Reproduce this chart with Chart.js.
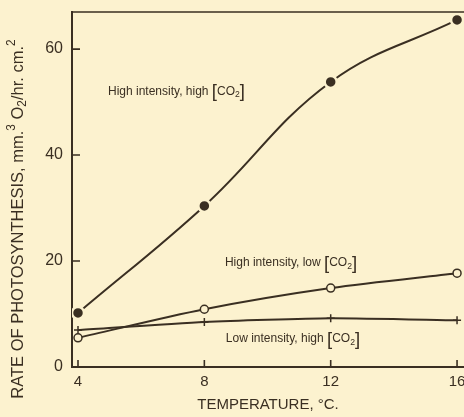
<!DOCTYPE html>
<html>
<head>
<meta charset="utf-8">
<script src="https://cdn.jsdelivr.net/npm/chart.js@4/dist/chart.umd.min.js"></script>
<style>
  html, body { margin: 0; padding: 0; background: #fcf2cf; }
  #wrap { width: 464px; height: 417px; }
</style>
</head>
<body>
<div id="wrap"><canvas id="myChart" width="464" height="417"></canvas></div>
<script>
(function () {
  "use strict";

  // values
  var temps = [4, 8, 12, 16];
  var highHigh = [10.2, 30.4, 53.8, 65.5];
  var highLow = [5.5, 10.9, 14.9, 17.7];
  var lowHigh = [7.0, 8.5, 9.2, 8.8];
  var xTicks = [4, 8, 12, 16];
  var yTicks = [0, 20, 40, 60];

  var ink = "rgb(58, 47, 34)";
  var paper = "rgb(252, 242, 207)";
  var fontName = "'Liberation Sans', Arial, sans-serif";

  function pts(vals) {
    var out = [];
    for (var i = 0; i < temps.length; i++) out.push({ x: temps[i], y: vals[i] });
    return out;
  }

  // text with sub/superscripts and tall brackets
  function drawRich(ctx, parts, x, y, size, align) {
    var total = 0;
    var sizes = [];
    for (var i = 0; i < parts.length; i++) {
      var mode = parts[i][1];
      var s = mode === "sub" || mode === "sup" ? size * 0.72 : mode === "big" ? size * 1.55 : size;
      sizes.push(s);
      ctx.font = s + "px " + fontName;
      total += ctx.measureText(parts[i][0]).width;
    }
    var cx = align === "center" ? x - total / 2 : x;
    ctx.textAlign = "left";
    ctx.textBaseline = "middle";
    for (var j = 0; j < parts.length; j++) {
      var m = parts[j][1];
      var dy = m === "sub" ? size * 0.3 : m === "sup" ? -size * 0.4 : m === "big" ? size * 0.05 : 0;
      ctx.font = sizes[j] + "px " + fontName;
      ctx.fillText(parts[j][0], cx, y + dy);
      cx += ctx.measureText(parts[j][0]).width;
    }
  }

  function co2Label(prefix) {
    return [[prefix, "n"], ["[", "big"], ["CO", "n"], ["2", "sub"], ["]", "big"]];
  }

  var labels = [
    { parts: co2Label("High intensity, high "), x: 4.95, y: 52 },
    { parts: co2Label("High intensity, low "), x: 8.65, y: 19.6 },
    { parts: co2Label("Low intensity, high "), x: 8.68, y: 5.3 }
  ];

  var decor = {
    id: "decor",
    beforeDraw: function (chart) {
      var ctx = chart.ctx;
      ctx.save();
      ctx.fillStyle = paper;
      ctx.fillRect(0, 0, chart.width, chart.height);
      ctx.restore();
    },
    afterDraw: function (chart) {
      var ctx = chart.ctx;
      var area = chart.chartArea;
      var xs = chart.scales.x;
      var ys = chart.scales.y;
      ctx.save();
      ctx.strokeStyle = ink;
      ctx.fillStyle = ink;
      ctx.lineWidth = 1.6;
      ctx.beginPath();
      ctx.moveTo(area.left, area.top);
      ctx.lineTo(chart.width, area.top);
      yTicks.forEach(function (v) {
        var py = ys.getPixelForValue(v);
        ctx.moveTo(area.left, py);
        ctx.lineTo(area.left + 8, py);
      });
      xTicks.forEach(function (v) {
        var px = xs.getPixelForValue(v);
        ctx.moveTo(px, area.bottom);
        ctx.lineTo(px, area.bottom - 7);
      });
      ctx.stroke();

      labels.forEach(function (l) {
        drawRich(ctx, l.parts, xs.getPixelForValue(l.x), ys.getPixelForValue(l.y), 12, "left");
      });

      ctx.translate(18, 219);
      ctx.rotate(-Math.PI / 2);
      drawRich(ctx, [
        ["RATE OF PHOTOSYNTHESIS, mm.", "n"], ["3", "sup"], [" O", "n"], ["2", "sub"],
        ["/hr. cm.", "n"], ["2", "sup"]
      ], 0, 0, 16.5, "center");
      ctx.restore();
    }
  };

  function series(vals, style) {
    var d = {
      data: pts(vals),
      borderColor: ink,
      borderWidth: 2,
      tension: 0.4,
      pointRadius: 4.5,
      pointBorderWidth: 1.5,
      pointBorderColor: ink,
      pointBackgroundColor: ink
    };
    if (style === "open") {
      d.pointBackgroundColor = paper;
      d.pointRadius = 4;
      d.tension = 0.3;
    } else if (style === "cross") {
      d.pointStyle = "cross";
      d.pointRadius = 4;
      d.tension = 0.2;
    } else {
      d.pointBorderColor = paper;
      d.pointBorderWidth = 2.5;
      d.pointRadius = 6;
    }
    return d;
  }

  function noPad(scale) {
    scale.paddingLeft = 0;
    scale.paddingRight = 0;
    scale.paddingTop = 0;
    scale.paddingBottom = 0;
  }

  var ctx = document.getElementById("myChart");
  var myChart = new Chart(ctx, {
    type: "line",
    data: {
      datasets: [
        series(highHigh, "filled"),
        series(highLow, "open"),
        series(lowHigh, "cross")
      ]
    },
    options: {
      responsive: false,
      animation: false,
      layout: { autoPadding: false, padding: { top: 12, right: 0, left: 0, bottom: 0 } },
      plugins: { legend: { display: false }, tooltip: { enabled: false } },
      scales: {
        x: {
          type: "linear",
          min: 3.81,
          max: 16.22,
          afterBuildTicks: function (scale) {
            scale.ticks = xTicks.map(function (v) { return { value: v }; });
          },
          afterFit: function (scale) { scale.height = 50; noPad(scale); },
          grid: { drawOnChartArea: false, drawTicks: false },
          border: { display: true, color: ink, width: 2 },
          ticks: { color: ink, padding: 6, font: { family: fontName, size: 15 } },
          title: {
            display: true,
            text: "TEMPERATURE, °C.",
            color: ink,
            font: { family: fontName, size: 15 },
            padding: { top: 2, bottom: 3 }
          }
        },
        y: {
          min: 0,
          max: 67,
          afterBuildTicks: function (scale) {
            scale.ticks = yTicks.map(function (v) { return { value: v }; });
          },
          afterFit: function (scale) { scale.width = 72; noPad(scale); },
          grid: { drawOnChartArea: false, drawTicks: false },
          border: { display: true, color: ink, width: 2 },
          ticks: { color: ink, padding: 9, font: { family: fontName, size: 16 } }
        }
      }
    },
    plugins: [decor]
  });
})();
</script>
</body>
</html>
